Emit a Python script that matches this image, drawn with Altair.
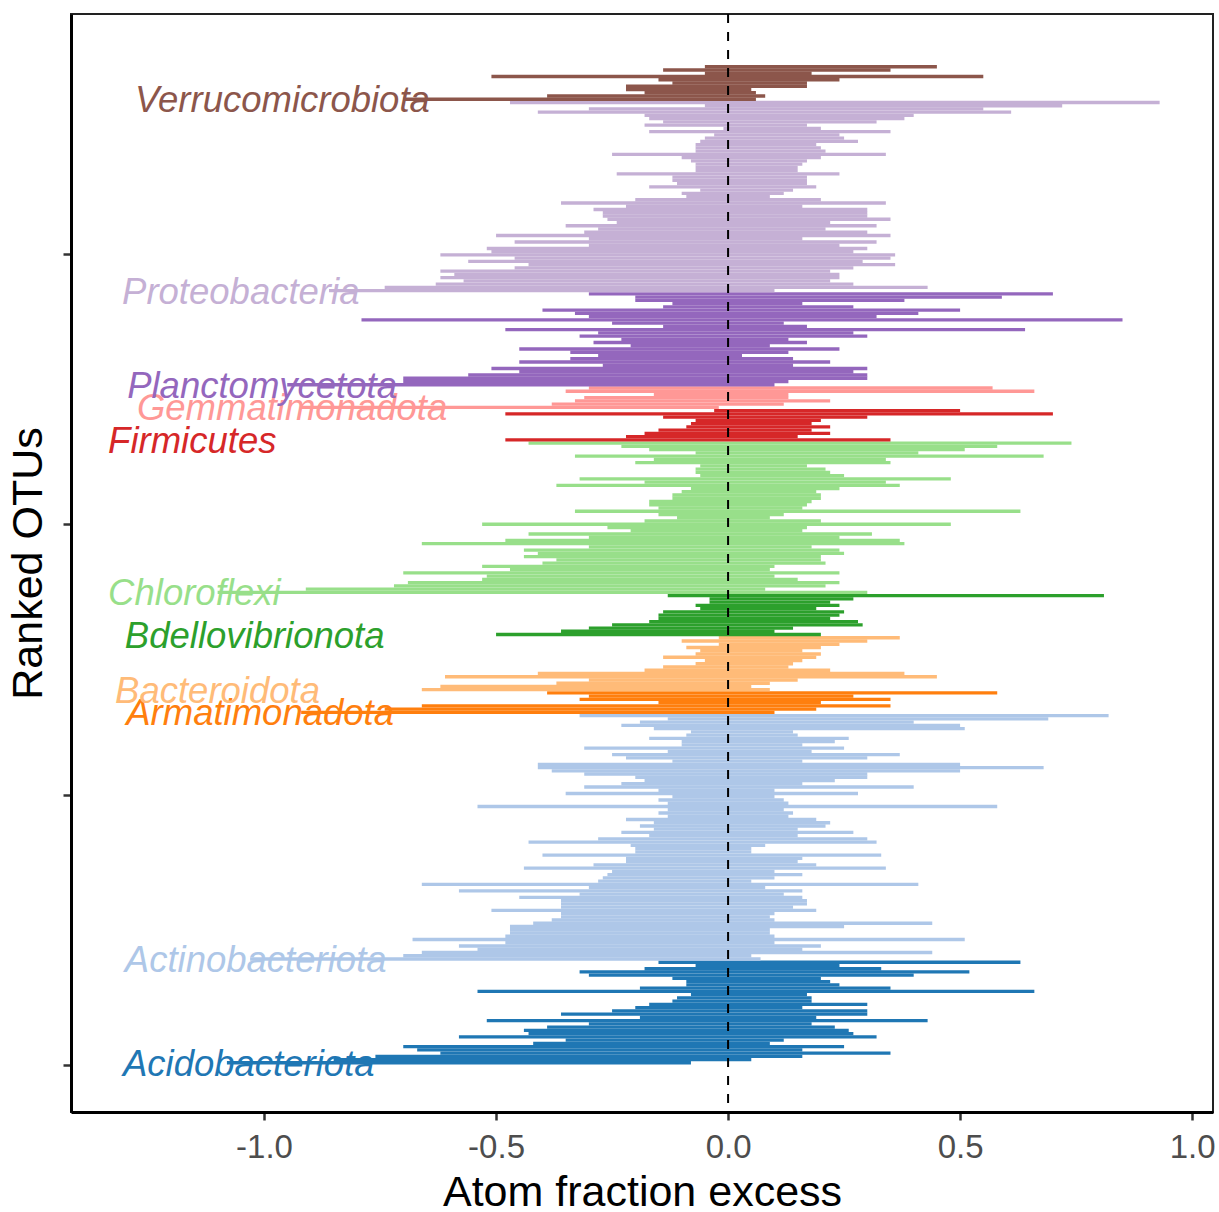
import altair as alt
import pandas as pd

# ---------------- data ----------------
phyla = ["Acidobacteriota", "Actinobacteriota", "Armatimonadota", "Bacteroidota",
         "Bdellovibrionota", "Chloroflexi", "Firmicutes", "Gemmatimonadota",
         "Planctomycetota", "Proteobacteria", "Verrucomicrobiota"]
colors = ["#1f77b4", "#aec7e8", "#ff7f0e", "#ffbb78", "#2ca02c", "#98df8a",
          "#d62728", "#ff9896", "#9467bd", "#c5b0d5", "#8c564b"]
label_x = [-1.304, -1.300, -1.297, -1.321, -1.300, -1.336, -1.336, -1.274,
           -1.295, -1.306, -1.278]

# lower / upper bounds of ranked OTUs (bottom to top), each entry = 3 ranks
acido_lo = [-1.08, -0.85, -0.76, -0.62, -0.67, -0.70, -0.42, -0.35, -0.58, -0.43, -0.44,
            -0.39, -0.30, -0.52, -0.19, -0.36, -0.25, -0.20, -0.17, -0.12, -0.11, -0.08,
            -0.54, -0.19, -0.09, -0.09, -0.12, -0.30, -0.32, -0.18, -0.07, -0.15]
acido_hi = [-0.08, 0.05, 0.16, 0.35, 0.16, 0.25, 0.09, 0.12, 0.32, 0.27, 0.26,
            0.23, 0.18, 0.43, 0.19, 0.30, 0.30, 0.16, 0.30, 0.18, 0.18, 0.17,
            0.66, 0.35, 0.24, 0.22, 0.20, 0.40, 0.52, 0.33, 0.24, 0.63]

actino_lo = [-1.03, -0.70, -0.66, -0.54, -0.58, -0.48, -0.68, -0.48, -0.47, -0.47,
             -0.47, -0.42, -0.38, -0.36, -0.36, -0.51, -0.36, -0.36, -0.36, -0.45,
             -0.32, -0.58, -0.30, -0.66, -0.28, -0.27, -0.26, -0.25, -0.44, -0.29,
             -0.22, -0.22, -0.40, -0.20, -0.20, -0.21, -0.43, -0.28, -0.17, -0.23,
             -0.16, -0.19, -0.16, -0.22, -0.13, -0.15, -0.13, -0.54, -0.13, -0.15,
             -0.12, -0.35, -0.15, -0.31, -0.23, -0.18, -0.20, -0.31, -0.38, -0.41,
             -0.41, -0.12, -0.22, -0.25, -0.13, -0.31, -0.10, -0.10, -0.17, -0.09,
             -0.08, -0.16, -0.23, -0.19, -0.13, -0.32]
actino_hi = [0.07, 0.05, 0.44, 0.16, 0.20, 0.10, 0.51, 0.10, 0.09, 0.09,
             0.25, 0.44, 0.10, 0.09, 0.10, 0.19, 0.14, 0.17, 0.17, 0.16,
             0.12, 0.16, 0.08, 0.41, 0.05, 0.10, 0.16, 0.10, 0.34, 0.19,
             0.15, 0.16, 0.33, 0.05, 0.05, 0.08, 0.32, 0.30, 0.15, 0.27,
             0.15, 0.21, 0.22, 0.19, 0.13, 0.14, 0.12, 0.58, 0.13, 0.12,
             0.10, 0.28, 0.10, 0.40, 0.16, 0.23, 0.30, 0.30, 0.50, 0.68,
             0.50, 0.16, 0.30, 0.37, 0.18, 0.25, 0.16, 0.23, 0.26, 0.15,
             0.14, 0.51, 0.50, 0.40, 0.69, 0.82]

armat_lo = [-0.92, -0.74, -0.66, -0.15, -0.32, -0.30, -0.39]
armat_hi = [0.10, 0.19, 0.35, 0.20, 0.35, 0.27, 0.58]

bactero_lo = [-0.66, -0.62, -0.37, -0.30, -0.61, -0.41, -0.18, -0.14, -0.07, -0.05,
              -0.14, -0.07, -0.06, -0.09, -0.02, -0.10, -0.02]
bactero_hi = [0.09, 0.05, 0.09, 0.15, 0.45, 0.38, 0.22, 0.13, 0.14, 0.16,
              0.19, 0.20, 0.16, 0.20, 0.24, 0.30, 0.37]

bdello_lo = [-0.50, -0.36, -0.30, -0.25, -0.17, -0.15, -0.15, -0.14, -0.06, -0.07,
             -0.04, -0.04, -0.13]
bdello_hi = [0.20, 0.10, 0.14, 0.29, 0.28, 0.22, 0.24, 0.25, 0.19, 0.24,
             0.22, 0.27, 0.81]

chloro_lo = [-1.10, -0.91, -0.72, -0.69, -0.53, -0.52, -0.70, -0.47, -0.53, -0.40,
             -0.37, -0.44, -0.41, -0.44, -0.30, -0.66, -0.48, -0.30, -0.43, -0.21,
             -0.26, -0.53, -0.18, -0.11, -0.15, -0.33, -0.15, -0.17, -0.17, -0.12,
             -0.12, -0.10, -0.08, -0.37, -0.18, -0.32, -0.06, -0.07, -0.07, -0.06,
             -0.20, -0.16, -0.33, -0.07, -0.17, -0.23, -0.43]
chloro_hi = [0.30, 0.08, 0.21, 0.24, 0.15, 0.10, 0.24, 0.09, 0.10, 0.21,
             0.20, 0.20, 0.25, 0.24, 0.18, 0.38, 0.37, 0.24, 0.31, 0.16,
             0.17, 0.48, 0.20, 0.09, 0.12, 0.63, 0.16, 0.17, 0.18, 0.20,
             0.20, 0.19, 0.24, 0.37, 0.34, 0.48, 0.25, 0.22, 0.21, 0.17,
             0.35, 0.34, 0.68, 0.41, 0.51, 0.58, 0.74]

firmi_lo = [-0.48, -0.22, -0.18, -0.15, -0.09, -0.08, -0.07, -0.14, -0.48, -0.03]
firmi_hi = [0.35, 0.15, 0.22, 0.18, 0.22, 0.18, 0.20, 0.30, 0.70, 0.50]

gemma_lo = [-0.92, -0.38, -0.33, -0.31, -0.16, -0.35, -0.30]
gemma_hi = [-0.02, 0.12, 0.22, 0.13, 0.13, 0.66, 0.57]

plancto_lo = [-0.95, -0.70, -0.70, -0.56, -0.45, -0.51, -0.27, -0.45, -0.34, -0.28,
              -0.34, -0.45, -0.21, -0.29, -0.23, -0.32, -0.28, -0.48, -0.14, -0.25,
              -0.79, -0.30, -0.33, -0.40, -0.14, -0.12, -0.20, -0.20, -0.30]
plancto_hi = [0.10, 0.13, 0.30, 0.30, 0.27, 0.30, 0.14, 0.22, 0.14, 0.03,
              0.13, 0.24, 0.09, 0.17, 0.13, 0.30, 0.27, 0.64, 0.17, 0.12,
              0.85, 0.32, 0.41, 0.50, 0.27, 0.16, 0.38, 0.59, 0.70]

proteo_lo = [-0.86, -0.74, -0.63, -0.57, -0.62, -0.59, -0.62, -0.46, -0.43, -0.56,
             -0.46, -0.62, -0.51, -0.52, -0.30, -0.46, -0.30, -0.50, -0.31, -0.28,
             -0.35, -0.24, -0.26, -0.27, -0.27, -0.29, -0.22, -0.36, -0.20, -0.09,
             -0.10, -0.06, -0.17, -0.11, -0.12, -0.12, -0.24, -0.07, -0.07, -0.07,
             -0.08, -0.10, -0.25, -0.07, -0.07, -0.07, -0.06, -0.05, -0.03, -0.17,
             -0.01, -0.18, -0.14, -0.17, -0.18, -0.41, -0.30, -0.05, -0.47]
proteo_hi = [0.10, 0.43, 0.27, 0.22, 0.24, 0.24, 0.22, 0.27, 0.36, 0.29,
             0.35, 0.36, 0.27, 0.30, 0.24, 0.32, 0.16, 0.35, 0.30, 0.21,
             0.32, 0.22, 0.35, 0.30, 0.30, 0.30, 0.16, 0.34, 0.20, 0.09,
             0.12, 0.14, 0.19, 0.17, 0.17, 0.17, 0.24, 0.15, 0.15, 0.16,
             0.17, 0.20, 0.34, 0.21, 0.20, 0.19, 0.28, 0.25, 0.24, 0.35,
             0.20, 0.17, 0.32, 0.38, 0.40, 0.61, 0.55, 0.72, 0.93]

verruco_lo = [-0.70, -0.39, -0.18, -0.22, -0.22, -0.12, -0.15, -0.51, -0.05, -0.14, -0.05]
verruco_hi = [0.06, 0.08, 0.06, 0.05, 0.17, 0.17, 0.24, 0.55, 0.18, 0.35, 0.45]

los = [acido_lo, actino_lo, armat_lo, bactero_lo, bdello_lo, chloro_lo,
       firmi_lo, gemma_lo, plancto_lo, proteo_lo, verruco_lo]
his = [acido_hi, actino_hi, armat_hi, bactero_hi, bdello_hi, chloro_hi,
       firmi_hi, gemma_hi, plancto_hi, proteo_hi, verruco_hi]

# ---------------- build tables ----------------
RANKS_PER_ROW = 3
rows, labels = [], []
i = 0
for ph, lo, hi, lx in zip(phyla, los, his, label_x):
    start = i
    for l, h in zip(lo, hi):
        rows.append({"phylum": ph, "lo": l, "hi": h, "rank": RANKS_PER_ROW * i + 2})
        i += 1
    labels.append({"phylum": ph, "lx": lx, "ly": RANKS_PER_ROW * start + 2})
df = pd.DataFrame(rows)
lab = pd.DataFrame(labels)

n_ranks = RANKS_PER_ROW * i
span = (n_ranks - 1) * 1.1
ymin = -43.5
ymax = ymin + span
XMIN, XMAX = -1.416, 1.045

W, H = 1142, 1098
stroke_w = RANKS_PER_ROW * H / (ymax - ymin) + 0.1

FONT = "Liberation Sans"
color_enc = alt.Color("phylum:N", scale=alt.Scale(domain=phyla, range=colors), legend=None)

xscale = alt.Scale(domain=[XMIN, XMAX], nice=False, zero=False)
yscale = alt.Scale(domain=[ymin, ymax], nice=False, zero=False)

xaxis = alt.Axis(values=[-1.0, -0.5, 0.0, 0.5, 1.0],
                 labelExpr="datum.value < 0 ? '-' + format(-datum.value, '.1f') : format(datum.value, '.1f')",
                 labelFont=FONT, labelFontSize=33, labelColor="#4d4d4d", labelPadding=11,
                 labelFlush=False,
                 tickColor="#333333", tickSize=8, tickWidth=2.5,
                 domainColor="black", domainWidth=3, grid=False,
                 titleFont=FONT, titleFontSize=43, titleFontWeight="normal", titleColor="black",
                 titleX=W / 2, titleY=80, titleAlign="center", titleBaseline="middle")
yaxis = alt.Axis(values=[0, 250, 500, 750], labels=False,
                 tickColor="#333333", tickSize=8, tickWidth=2.5,
                 domainColor="black", domainWidth=3, grid=False,
                 titleFont=FONT, titleFontSize=43, titleFontWeight="normal", titleColor="black",
                 titleX=-43, titleY=H / 2, titleAngle=270, titleAlign="center",
                 titleBaseline="middle")

segments = alt.Chart(df).mark_rule(strokeWidth=stroke_w, strokeCap="butt").encode(
    x=alt.X("lo:Q", scale=xscale, axis=xaxis, title="Atom fraction excess"),
    x2="hi:Q",
    y=alt.Y("rank:Q", scale=yscale, axis=yaxis, title="Ranked OTUs"),
    color=color_enc,
)

zero_line = alt.Chart(pd.DataFrame({"z": [0.0]})).mark_rule(
    color="black", strokeWidth=2, strokeDash=[9, 9]).encode(x=alt.X("z:Q", scale=xscale))

texts = alt.Chart(lab).mark_text(align="left", baseline="middle", font=FONT, dy=2,
                                 fontSize=36.5, fontStyle="italic").encode(
    x=alt.X("lx:Q", scale=xscale),
    y=alt.Y("ly:Q", scale=yscale),
    text="phylum:N",
    color=color_enc,
)

chart = alt.layer(segments, zero_line, texts).properties(
    width=W, height=H,
    background="white",
    autosize=alt.AutoSizeParams(type="none"),
    padding={"left": 71, "top": 14, "right": 6, "bottom": 100},
).configure_view(stroke="#222222", strokeWidth=2)

chart.save("out.html", embed_options={"renderer": "svg", "actions": False})
